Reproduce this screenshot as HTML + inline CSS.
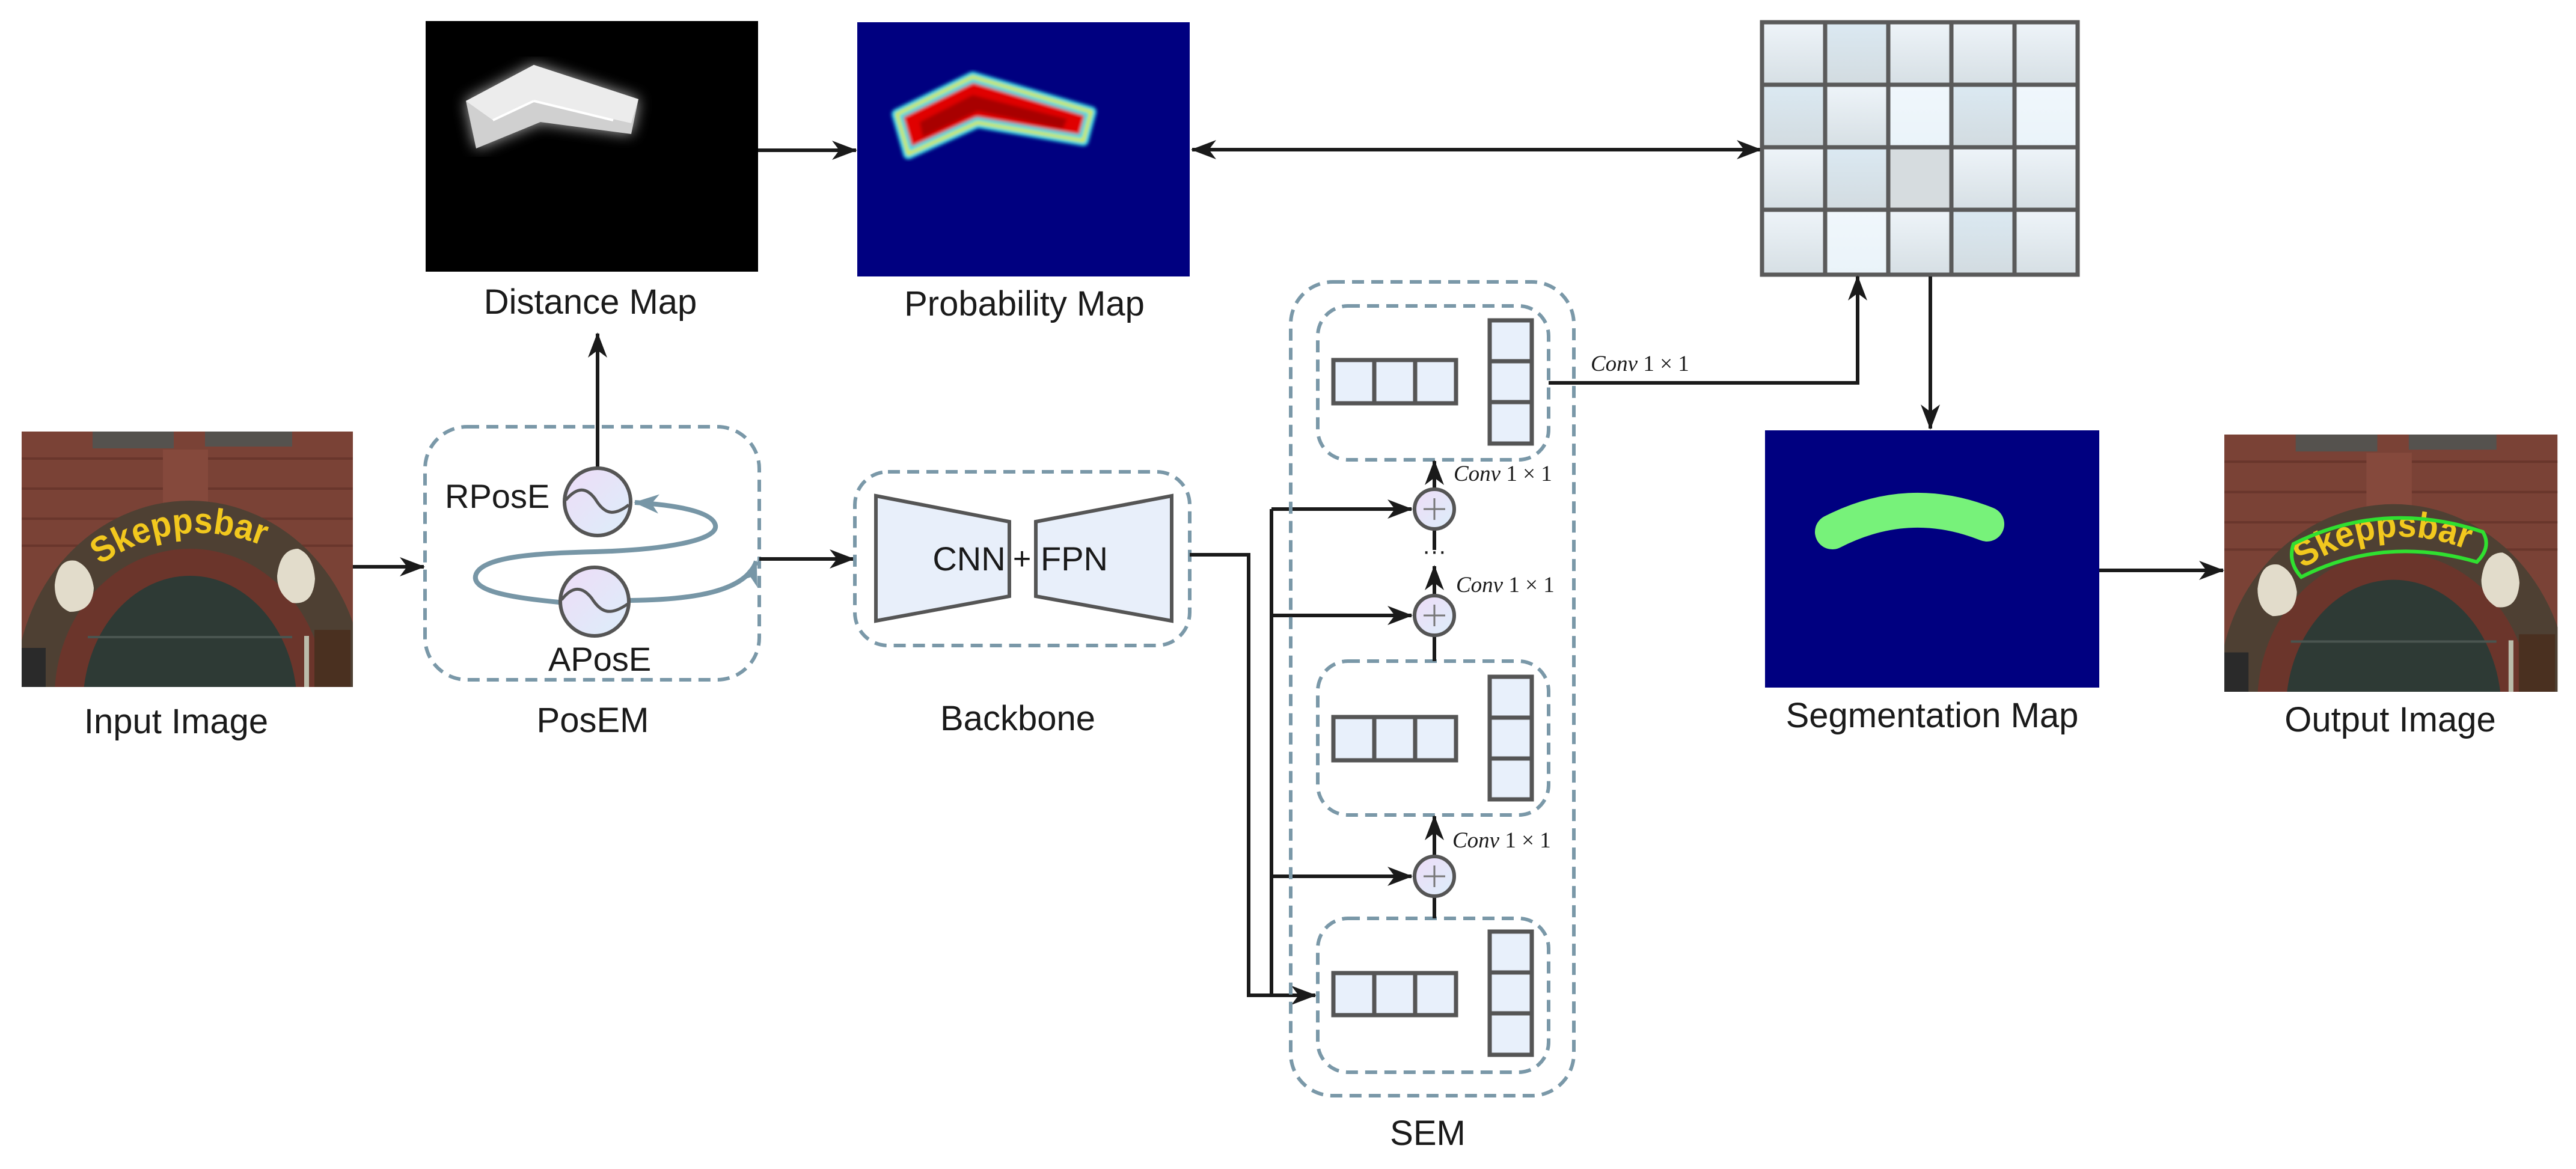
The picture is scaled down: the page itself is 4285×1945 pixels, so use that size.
<!DOCTYPE html>
<html><head><meta charset="utf-8"><style>
html,body{margin:0;padding:0;background:#fff;}
svg{display:block;}
text{font-family:"Liberation Sans",Arial,sans-serif;fill:#1a1a1a;}
.lbl{font-size:58px;}
.conv{font-family:"Liberation Serif",serif;font-style:italic;font-size:37px;}
</style></head><body>
<svg width="4285" height="1945" viewBox="0 0 4285 1945" xmlns="http://www.w3.org/2000/svg">
<defs>
<marker id="ah" markerUnits="userSpaceOnUse" markerWidth="44" markerHeight="36" refX="40" refY="18" orient="auto">
<path d="M0,2 L42,18 L0,34 L12,18 Z" fill="#1a1a1a"/></marker>
<marker id="ahb" markerUnits="userSpaceOnUse" markerWidth="44" markerHeight="36" refX="40" refY="18" orient="auto">
<path d="M0,2 L42,18 L0,34 L12,18 Z" fill="#7796a6"/></marker>
<marker id="ahs" markerUnits="userSpaceOnUse" markerWidth="44" markerHeight="36" refX="2" refY="18" orient="auto">
<path d="M42,2 L0,18 L42,34 L30,18 Z" fill="#1a1a1a"/></marker>
<filter id="blur4"><feGaussianBlur stdDeviation="3"/></filter>
<filter id="blur10"><feGaussianBlur stdDeviation="12"/></filter>
<clipPath id="pc"><rect x="0" y="0" width="551" height="425"/></clipPath>
<linearGradient id="cell" x1="0" y1="0" x2="0" y2="1"><stop offset="0" stop-color="#eef4f9"/><stop offset="1" stop-color="#d6dfe4"/></linearGradient>
<linearGradient id="cell2" x1="0" y1="0" x2="0" y2="1"><stop offset="0" stop-color="#dbe9f2"/><stop offset="1" stop-color="#d2dbe0"/></linearGradient>
<linearGradient id="cell3" x1="0" y1="0" x2="0" y2="1"><stop offset="0" stop-color="#f0f7fc"/><stop offset="1" stop-color="#eaf3f9"/></linearGradient>
<linearGradient id="circ" x1="0" y1="0" x2="1" y2="1"><stop offset="0" stop-color="#eedcf7"/><stop offset="1" stop-color="#dceefa"/></linearGradient>
<g id="photo">
 <g clip-path="url(#pc)">
  <rect x="0" y="0" width="551" height="425" fill="#7a4236"/>
  <g stroke="#5e2f26" stroke-width="4" opacity="0.6">
    <line x1="0" y1="45" x2="551" y2="45"/><line x1="0" y1="95" x2="551" y2="95"/><line x1="0" y1="145" x2="551" y2="145"/><line x1="0" y1="190" x2="551" y2="190"/>
  </g>
  <rect x="118" y="0" width="135" height="28" fill="#55524e"/>
  <rect x="305" y="0" width="145" height="25" fill="#55524e"/>
  <rect x="235" y="30" width="75" height="90" fill="#85493c"/>
  <ellipse cx="280" cy="430" rx="290" ry="315" fill="#4e4033"/>
  <ellipse cx="280" cy="440" rx="225" ry="245" fill="#6b352b"/>
  <ellipse cx="280" cy="455" rx="178" ry="215" fill="#2e3a35"/>
  <rect x="110" y="340" width="340" height="4" fill="#4a5550"/>
  <path id="arcp" d="M 130 222 Q 270 128 425 200" fill="none"/>
  <text font-family="Liberation Serif,serif" font-weight="bold" font-size="60" style="fill:#f2c81e"><textPath href="#arcp" textLength="285" lengthAdjust="spacingAndGlyphs">Skeppsbar</textPath></text>
  <path d="M55 255 Q60 210 90 215 Q115 225 120 260 Q118 300 80 300 Q55 290 55 255Z" fill="#e2dccb"/>
  <path d="M425 240 Q430 195 460 195 Q485 205 488 245 Q485 290 450 285 Q425 270 425 240Z" fill="#e2dccb"/>
  <rect x="0" y="360" width="40" height="65" fill="#2a2a2a"/>
  <rect x="487" y="330" width="60" height="95" fill="#4a3020"/>
  <rect x="470" y="340" width="8" height="85" fill="#bba"/>
 </g>
</g>
</defs>

<use href="#photo" transform="translate(36,718)"/>
<text class="lbl" x="293" y="1220" text-anchor="middle">Input Image</text>

<rect x="708" y="35" width="553" height="417" fill="#000"/>
<polygon points="775,168 888,108 1062,165 1050,223 899,203 792,247" fill="#fff" filter="url(#blur10)" opacity="0.7"/>
<polygon points="775,168 888,108 1062,165 1050,223 899,203 792,247" fill="#d0d0d0"/>
<polygon points="775,168 888,108 1062,165 1050,205 888,168 820,200" fill="#ececec"/>
<line x1="820" y1="200" x2="888" y2="168" stroke="#fff" stroke-width="4"/>
<line x1="888" y1="168" x2="1020" y2="200" stroke="#fff" stroke-width="4"/>
<text class="lbl" x="982" y="522" text-anchor="middle">Distance Map</text>

<rect x="1426" y="37" width="553" height="423" fill="#000080"/>
<g filter="url(#blur4)">
<polygon points="1492,190 1618,128 1815,186 1802,234 1626,204 1511,256" fill="#e00000" stroke="#30d8e8" stroke-width="18" stroke-linejoin="round"/>
<polygon points="1492,190 1618,128 1815,186 1802,234 1626,204 1511,256" fill="none" stroke="#d8e840" stroke-width="6" stroke-linejoin="round"/>
<polygon points="1530,203 1618,158 1775,198 1768,214 1626,185 1535,228" fill="#a80000"/>
</g>
<text class="lbl" x="1704" y="525" text-anchor="middle">Probability Map</text>

<line x1="1261" y1="250" x2="1424" y2="250" stroke="#1a1a1a" stroke-width="6" marker-end="url(#ah)"/>
<line x1="1983" y1="249" x2="2929" y2="249" stroke="#1a1a1a" stroke-width="6" marker-end="url(#ah)" marker-start="url(#ahs)"/>

<g stroke="#5a5a5a" stroke-width="7">
<rect x="2931" y="37" width="105" height="104" fill="url(#cell)"/><rect x="3036" y="37" width="105" height="104" fill="url(#cell2)"/><rect x="3141" y="37" width="105" height="104" fill="url(#cell)"/><rect x="3246" y="37" width="105" height="104" fill="url(#cell)"/><rect x="3351" y="37" width="105" height="104" fill="url(#cell)"/>
<rect x="2931" y="141" width="105" height="104" fill="url(#cell2)"/><rect x="3036" y="141" width="105" height="104" fill="url(#cell)"/><rect x="3141" y="141" width="105" height="104" fill="url(#cell3)"/><rect x="3246" y="141" width="105" height="104" fill="url(#cell2)"/><rect x="3351" y="141" width="105" height="104" fill="url(#cell3)"/>
<rect x="2931" y="245" width="105" height="104" fill="url(#cell)"/><rect x="3036" y="245" width="105" height="104" fill="url(#cell2)"/><rect x="3141" y="245" width="105" height="104" fill="#d6dcdf"/><rect x="3246" y="245" width="105" height="104" fill="url(#cell)"/><rect x="3351" y="245" width="105" height="104" fill="url(#cell)"/>
<rect x="2931" y="349" width="105" height="108" fill="url(#cell)"/><rect x="3036" y="349" width="105" height="108" fill="url(#cell3)"/><rect x="3141" y="349" width="105" height="108" fill="url(#cell)"/><rect x="3246" y="349" width="105" height="108" fill="url(#cell2)"/><rect x="3351" y="349" width="105" height="108" fill="url(#cell)"/>
</g>
<line x1="3211" y1="460" x2="3211" y2="713" stroke="#1a1a1a" stroke-width="6" marker-end="url(#ah)"/>

<rect x="2936" y="716" width="556" height="428" fill="#000080"/>
<path d="M3048 885 Q3175 820 3305 872" fill="none" stroke="#77f27a" stroke-width="58" stroke-linecap="round"/>
<text class="lbl" x="3214" y="1210" text-anchor="middle">Segmentation Map</text>
<line x1="3492" y1="949" x2="3698" y2="949" stroke="#1a1a1a" stroke-width="6" marker-end="url(#ah)"/>

<use href="#photo" transform="translate(3700,723) scale(1.006,1.007)"/>
<path d="M3815 905 Q3965 830 4130 885 Q4145 910 4120 935 Q3965 890 3828 960 Q3805 935 3815 905 Z" fill="none" stroke="#30e030" stroke-width="6"/>
<text class="lbl" x="3976" y="1217" text-anchor="middle">Output Image</text>

<rect x="707" y="710" width="556" height="421" rx="70" fill="none" stroke="#7a98a8" stroke-width="6" stroke-dasharray="20 12"/>
<line x1="994" y1="778" x2="994" y2="555" stroke="#1a1a1a" stroke-width="6" marker-end="url(#ah)"/>
<line x1="587" y1="943" x2="705" y2="943" stroke="#1a1a1a" stroke-width="6" marker-end="url(#ah)"/>
<path d="M930 1002 C 860 995, 780 985, 792 955 C 805 925, 900 920, 990 918 C 1100 915, 1195 900, 1190 874 C 1185 850, 1120 840, 1056 836" fill="none" stroke="#7796a6" stroke-width="8" marker-end="url(#ahb)"/>
<path d="M1048 999 C 1150 998, 1240 985, 1258 934" fill="none" stroke="#7796a6" stroke-width="8" marker-end="url(#ahb)"/>
<ellipse cx="994" cy="835" rx="55" ry="56" fill="url(#circ)" stroke="#555" stroke-width="6"/>
<path d="M941 832 C 960 810, 975 810, 990 830 C 1005 855, 1020 860, 1046 840" fill="none" stroke="#555" stroke-width="5"/>
<ellipse cx="989" cy="1001" rx="57" ry="57" fill="url(#circ)" stroke="#555" stroke-width="6"/>
<path d="M934 998 C 952 975, 968 975, 984 995 C 1000 1020, 1015 1025, 1044 1005" fill="none" stroke="#555" stroke-width="5"/>
<text x="740" y="845" font-size="56">RPosE</text>
<text x="912" y="1116" font-size="56">APosE</text>
<text class="lbl" x="986" y="1218" text-anchor="middle">PosEM</text>
<line x1="1263" y1="930" x2="1420" y2="930" stroke="#1a1a1a" stroke-width="6" marker-end="url(#ah)"/>

<rect x="1422" y="785" width="557" height="289" rx="55" fill="none" stroke="#7a98a8" stroke-width="6" stroke-dasharray="20 12"/>
<polygon points="1457,825 1679,868 1679,992 1457,1033" fill="#e8effa" stroke="#555" stroke-width="6"/>
<polygon points="1723,868 1949,825 1949,1033 1723,992" fill="#e8effa" stroke="#555" stroke-width="6"/>
<text x="1612" y="949" font-size="56" text-anchor="middle">CNN</text>
<text x="1700" y="947" font-size="52" text-anchor="middle">+</text>
<text x="1787" y="949" font-size="56" text-anchor="middle">FPN</text>
<text class="lbl" x="1693" y="1215" text-anchor="middle">Backbone</text>

<polyline points="1979,923 2077,923 2077,1656 2188,1656" fill="none" stroke="#1a1a1a" stroke-width="6" marker-end="url(#ah)"/>
<line x1="2115" y1="847" x2="2115" y2="1656" stroke="#1a1a1a" stroke-width="6"/>
<line x1="2115" y1="847" x2="2348" y2="847" stroke="#1a1a1a" stroke-width="6" marker-end="url(#ah)"/>
<line x1="2115" y1="1024" x2="2348" y2="1024" stroke="#1a1a1a" stroke-width="6" marker-end="url(#ah)"/>
<line x1="2115" y1="1458" x2="2348" y2="1458" stroke="#1a1a1a" stroke-width="6" marker-end="url(#ah)"/>

<rect x="2147" y="469" width="471" height="1354" rx="70" fill="none" stroke="#7a98a8" stroke-width="6" stroke-dasharray="20 12"/>
<g fill="none" stroke="#7a98a8" stroke-width="6" stroke-dasharray="20 12">
<rect x="2192" y="509" width="384" height="256" rx="50"/>
<rect x="2192" y="1100" width="384" height="256" rx="50"/>
<rect x="2192" y="1528" width="384" height="256" rx="50"/>
</g>
<g fill="#e8f0fb" stroke="#555" stroke-width="7">
<rect x="2218" y="599" width="68" height="72"/><rect x="2286" y="599" width="68" height="72"/><rect x="2354" y="599" width="68" height="72"/>
<rect x="2478" y="533" width="70" height="68"/><rect x="2478" y="601" width="70" height="68"/><rect x="2478" y="669" width="70" height="69"/>
<rect x="2218" y="1193" width="68" height="72"/><rect x="2286" y="1193" width="68" height="72"/><rect x="2354" y="1193" width="68" height="72"/>
<rect x="2478" y="1126" width="70" height="68"/><rect x="2478" y="1194" width="70" height="68"/><rect x="2478" y="1262" width="70" height="68"/>
<rect x="2218" y="1619" width="68" height="70"/><rect x="2286" y="1619" width="68" height="70"/><rect x="2354" y="1619" width="68" height="70"/>
<rect x="2478" y="1550" width="70" height="68"/><rect x="2478" y="1618" width="70" height="68"/><rect x="2478" y="1686" width="70" height="69"/>
</g>
<g stroke="#1a1a1a" stroke-width="6">
<line x1="2386" y1="813" x2="2386" y2="767" marker-end="url(#ah)"/>
<line x1="2386" y1="881" x2="2386" y2="915"/>
<line x1="2386" y1="990" x2="2386" y2="942" marker-end="url(#ah)"/>
<line x1="2386" y1="1058" x2="2386" y2="1100"/>
<line x1="2386" y1="1424" x2="2386" y2="1358" marker-end="url(#ah)"/>
<line x1="2386" y1="1492" x2="2386" y2="1528"/>
</g>
<text x="2386" y="930" font-size="40" text-anchor="middle" fill="#1a1a1a">···</text>
<g fill="url(#circ)" stroke="#555" stroke-width="6">
<circle cx="2386" cy="847" r="33"/><circle cx="2386" cy="1024" r="33"/><circle cx="2386" cy="1458" r="33"/>
</g>
<g stroke="#777" stroke-width="3">
<line x1="2368" y1="847" x2="2404" y2="847"/><line x1="2386" y1="829" x2="2386" y2="865"/>
<line x1="2368" y1="1024" x2="2404" y2="1024"/><line x1="2386" y1="1006" x2="2386" y2="1042"/>
<line x1="2368" y1="1458" x2="2404" y2="1458"/><line x1="2386" y1="1440" x2="2386" y2="1476"/>
</g>
<text class="conv" x="2418" y="800">Conv <tspan font-style="normal">1 × 1</tspan></text>
<text class="conv" x="2422" y="985">Conv <tspan font-style="normal">1 × 1</tspan></text>
<text class="conv" x="2416" y="1410">Conv <tspan font-style="normal">1 × 1</tspan></text>
<text class="conv" x="2646" y="617">Conv <tspan font-style="normal">1 × 1</tspan></text>
<polyline points="2576,637 3090,637 3090,460" fill="none" stroke="#1a1a1a" stroke-width="6" marker-end="url(#ah)"/>
<text class="lbl" x="2375" y="1905" text-anchor="middle">SEM</text>
</svg>
</body></html>
